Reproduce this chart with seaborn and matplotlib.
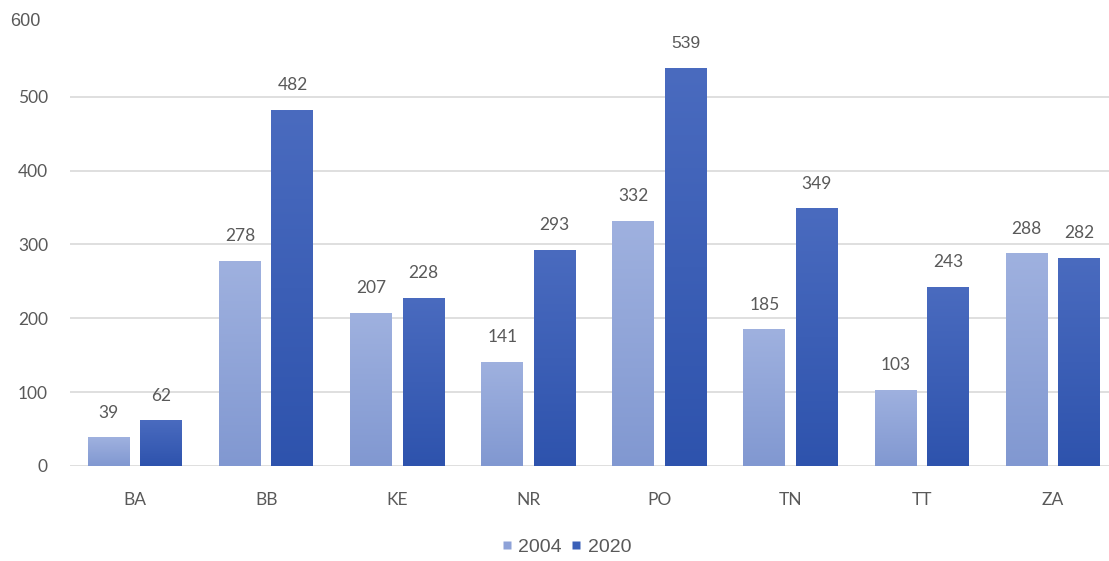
import numpy as np
import pandas as pd
import matplotlib
matplotlib.use("Agg")
import matplotlib.pyplot as plt
from matplotlib.colors import LinearSegmentedColormap
from matplotlib.lines import Line2D
import seaborn as sns

# Regional counts for two survey years
regions = ["BA", "BB", "KE", "NR", "PO", "TN", "TT", "ZA"]
values_2004 = [39, 278, 207, 141, 332, 185, 103, 288]
values_2020 = [62, 482, 228, 293, 539, 349, 243, 282]
years = ["2004", "2020"]
y_ticks = [0, 100, 200, 300, 400, 500]

df = pd.DataFrame({
    "region": regions * 2,
    "year": [years[0]] * len(regions) + [years[1]] * len(regions),
    "value": values_2004 + values_2020,
})

base_colors = {"2004": "#8ea2d8", "2020": "#3b60b8"}
grad_colors = {"2004": ("#8198d1", "#9fb1df"), "2020": ("#2e53ad", "#4a6bbf")}

sns.set_theme(style="white")
plt.rcParams["font.family"] = ["Lato", "DejaVu Sans"]

fig = plt.figure(figsize=(11.09, 5.61), dpi=100)
W, H = 1109, 561
ax = fig.add_axes([69.5 / W, (H - 466) / H, 1049 / W, 443 / H])

sns.barplot(data=df, x="region", y="value", hue="year", hue_order=years,
            palette=base_colors, width=0.8, gap=0.2, legend=False, ax=ax,
            zorder=3)

# Vertical gradient fill for every bar
for year, container in zip(years, ax.containers):
    cmap = LinearSegmentedColormap.from_list("g" + year, grad_colors[year])
    grad = np.linspace(0, 1, 256).reshape(-1, 1)
    for patch in container:
        x0, y0 = patch.get_x(), patch.get_y()
        w, h = patch.get_width(), patch.get_height()
        im = ax.imshow(grad, extent=[x0, x0 + w, y0, y0 + h], origin="lower",
                       aspect="auto", cmap=cmap, zorder=3.5,
                       interpolation="bilinear")
        im.set_clip_path(patch)
        patch.set_facecolor("none")
        patch.set_edgecolor("none")
ax.set_ylim(0, 600)
ax.set_xlim(-0.5, 7.5)

# Value labels above the bars
label_color = "#595959"
for container, vals in zip(ax.containers, [values_2004, values_2020]):
    for patch, v in zip(container, vals):
        cx = patch.get_x() + patch.get_width() / 2
        fam = ["Liberation Sans"] if v == 539 else ["Lato", "DejaVu Sans"]
        ax.annotate(str(v), (cx, v), xytext=(0, 12), textcoords="offset points",
                    ha="center", va="bottom", fontsize=12.5, color=label_color,
                    family=fam, zorder=5)

ax.set_yticks(y_ticks)
ax.set_yticklabels([str(t) for t in y_ticks])
ax.grid(axis="y", color="#d9d9d9", linewidth=1.2, zorder=0)
ax.set_axisbelow(True)
for s in ax.spines.values():
    s.set_visible(False)
ax.tick_params(axis="both", length=0, labelsize=12.5, labelcolor=label_color)
ax.tick_params(axis="y", pad=15.5)
ax.tick_params(axis="x", pad=19)
ax.set_xlabel("")
ax.set_ylabel("")

fig.text(10 / W, 1 - 22 / H, "600", fontsize=13, color="#595959",
         family=["Liberation Sans"], ha="left", va="center")

handles = [Line2D([], [], linestyle="none", marker="s", markersize=6,
                  markerfacecolor=base_colors[y], markeredgecolor="none")
           for y in years]
fig.legend(handles, years, loc="center", bbox_to_anchor=(565 / W, 14 / H),
           ncol=2, frameon=False, handletextpad=0.2, columnspacing=0.32,
           handlelength=0.8,
           prop={"family": "Liberation Sans", "size": 14}, labelcolor="#595959")

fig.savefig("out.png", dpi=100)
